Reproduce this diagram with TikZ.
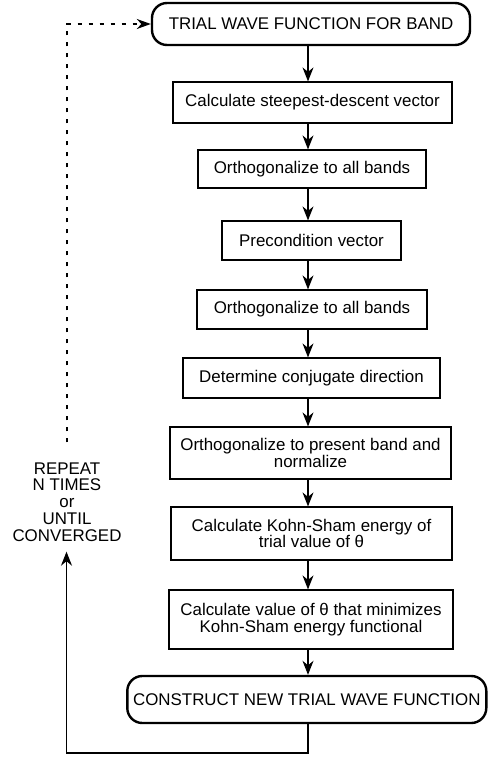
\documentclass[tikz,border=0pt]{standalone}
\usepackage{fontspec}
\setmainfont{Liberation Sans}
\usetikzlibrary{arrows.meta}
\begin{document}
\begin{tikzpicture}[x=1pt,y=-1pt,
  font=\fontsize{16.9}{16.8}\selectfont,
  stepbox/.style={draw,line width=1.2pt,align=center,inner sep=0pt,
    minimum height=#1},
  stepbox/.default=39pt,
  termbox/.style={draw,line width=2.4pt,rounded corners=15pt,align=center,
    inner sep=0pt},
  arr/.style={line width=1.2pt,-{Stealth[length=14pt,width=11pt,inset=4.5pt]}},
  loop/.style={line width=1.2pt,dash pattern=on 4pt off 7pt,
    -{Stealth[length=14pt,width=10pt,inset=4.5pt]}}]
\useasboundingbox (0,0) rectangle (488,758);

% vertical spine carrying the downward arrows
\coordinate (sp) at (308,0);

\node[termbox,minimum width=318pt,minimum height=42pt] (top) at (311,24)
  {TRIAL WAVE FUNCTION FOR BAND};
\node[stepbox=41pt,minimum width=279pt] (b1) at (312.5,102.5)
  {Calculate steepest-descent vector};
\node[stepbox=38pt,minimum width=228pt] (b2) at (312,169)
  {Orthogonalize to all bands};
\node[stepbox=39pt,minimum width=179pt] (b3) at (311.5,240.5)
  {Precondition vector};
\node[stepbox=39pt,minimum width=230pt] (b4) at (312,309.5)
  {Orthogonalize to all bands};
\node[stepbox=40pt,minimum width=257pt] (b5) at (311.5,378)
  {Determine conjugate direction};
\node[stepbox=52pt,minimum width=281pt] (b6) at (310.5,453)
  {Orthogonalize to present band and\\normalize};
\node[stepbox=53pt,minimum width=281pt] (b7) at (311.5,533.5)
  {Calculate Kohn-Sham energy of\\trial value of θ};
\node[stepbox=59pt,minimum width=284pt] (b8) at (311,619.5)
  {Calculate value of θ that minimizes\\Kohn-Sham energy functional};
\node[termbox,minimum width=359pt,minimum height=47pt] (bot) at (306.8,699.5)
  {CONSTRUCT NEW TRIAL WAVE FUNCTION};

\node[align=center,inner xsep=0pt,inner ysep=10pt] (rep) at (67,502)
  {REPEAT\\N TIMES\\or\\UNTIL\\CONVERGED};

\foreach \a/\b in {top/b1,b1/b2,b2/b3,b3/b4,b4/b5,b5/b6,b6/b7,b7/b8,b8/bot}
  \draw[arr] (\a.south -| sp) -- (\b.north -| sp);

% return path and repeat loop
\coordinate (fb) at (66.5,753);
\draw[arr] (bot.south -| sp) |- (fb) -- (rep.south -| fb);
\draw[loop] ([yshift=10pt]rep.north) |- (top.west);
\end{tikzpicture}
\end{document}
